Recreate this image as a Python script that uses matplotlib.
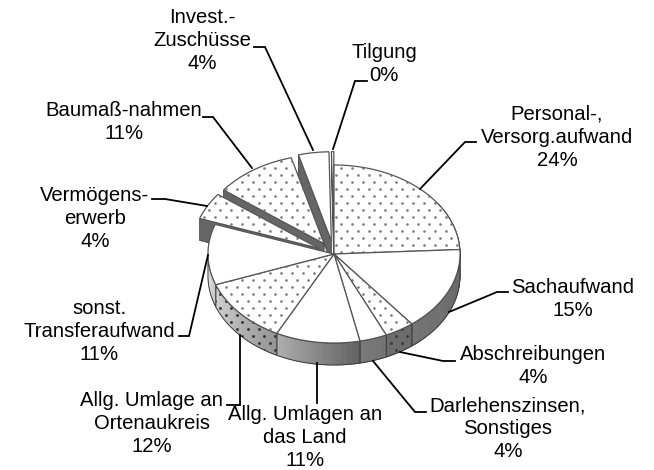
import numpy as np
import matplotlib
matplotlib.use("Agg")
import matplotlib.pyplot as plt
from matplotlib.patches import Polygon
from matplotlib.collections import PolyCollection

plt.rcParams['font.family'] = ['Liberation Sans', 'DejaVu Sans']

# data, clockwise from 12 o'clock (shares, labels as printed)
categories = ["Personal-,\nVersorg.aufwand", "Sachaufwand", "Abschreibungen",
              "Darlehenszinsen,\nSonstiges", "Allg. Umlagen an\ndas Land",
              "Allg. Umlage an\nOrtenaukreis", "sonst.\nTransferaufwand",
              "Vermögens-\nerwerb", "Baumaß-nahmen", "Invest.-\nZuschüsse", "Tilgung"]
shares = [24.2, 15.2, 3.8, 3.5, 10.8, 11.9, 11.0, 4.9, 10.5, 3.9, 0.3]
percent = [24, 15, 4, 4, 11, 12, 11, 4, 11, 4, 0]

# styles
dotted = [True, False, True, False, False, True, False, True, True, False, False]
explode = [0, 0, 0, 0, 0, 0, 0, 0.14, 0.14, 0.15, 0.15]
wall_grey = [(0.42, 0.40), (0.40, 0.45), (0.42, 0.42), (0.45, 0.47), (0.38, 0.68),
             (0.58, 0.82), (0.78, 0.92), (0.4, 0.4), (0.4, 0.4), (0.4, 0.4), (0.4, 0.4)]

# label layout in pixels: text centre x, first line y, leader line
label_x = [557, 573, 533, 508, 305, 152, 99, 95, 124, 202, 384]
label_y = [115, 288, 355, 406, 415, 401, 309, 196, 111, 18, 53]
leaders = [[(476, 142), (465, 142), (420, 189)],
           [(508, 292), (497, 292), (449, 312)],
           [(455, 361), (443, 361), (400, 352)],
           [(426, 412), (415, 412), (373, 361)],
           [(317, 403), (317, 363)],
           [(227, 405), (240, 405), (240, 335)],
           [(179, 336), (189, 336), (208, 255)],
           [(152, 199), (165, 199), (207, 206)],
           [(203, 117), (213, 117), (252, 168)],
           [(254, 47), (265, 47), (313, 150)],
           [(367, 81), (355, 81), (333, 149)]]

cx, cy = 334, 254
rx, ry = 126, 89
depth = 22


def ell(t, off=(0, 0), dz=0):
    return np.column_stack([cx + off[0] + rx * np.sin(t), cy + off[1] + ry * -np.cos(t) + dz])


def dots(ax, patch, color, size, zorder, dx=11.0, dy=7.0):
    xmin, ymin = patch.get_xy().min(axis=0)
    xmax, ymax = patch.get_xy().max(axis=0)
    xs, ys = [], []
    rows = np.arange(np.floor(ymin / dy), np.ceil(ymax / dy) + 1)
    for r in rows:
        shift = (r % 2) * dx / 2
        for c in np.arange(np.floor(xmin / dx) - 1, np.ceil(xmax / dx) + 1):
            xs.append(c * dx + shift)
            ys.append(r * dy)
    sc = ax.scatter(xs, ys, s=size, c=color, linewidths=0, zorder=zorder)
    sc.set_clip_path(patch)


fig = plt.figure(figsize=(6.54, 4.70), dpi=100)
ax = fig.add_axes([0, 0, 1, 1])
ax.set_xlim(0, 654)
ax.set_ylim(470, 0)
ax.axis("off")

edges = np.concatenate([[0], np.cumsum(shares)]) / sum(shares) * 2 * np.pi
z = 2

# exploded slices go from the back to the front, then the rest of the pie over their cut walls
order = [10, 9, 8, 7, 0, 1, 2, 3, 4, 5, 6]
for i in order:
    t0, t1 = edges[i], edges[i + 1]
    tm = (t0 + t1) / 2
    off = (explode[i] * rx * np.sin(tm), -explode[i] * ry * np.cos(tm))
    ts = np.linspace(t0, t1, max(int((t1 - t0) * 60), 3))
    arc = ell(ts, off)
    centre = np.array([[cx + off[0], cy + off[1]]])

    # cut wall seen on exploded slices
    if explode[i] > 0:
        a = centre[0]
        b = ell(np.array([t0]), off)[0]
        wall = Polygon([a, b, b + [0, depth], a + [0, depth]], closed=True, fc="#666666",
                       ec="#444444", lw=0.6, zorder=z)
        ax.add_patch(wall)
        z += 1

    # outer rim, only the front half faces the viewer
    front = ts[(ts > np.pi / 2 - 0.6) & (ts < 3 * np.pi / 2)] if explode[i] == 0 else []
    if len(front) > 1:
        top = ell(front, off)
        low = ell(front, off, depth)
        quads = [[top[k], top[k + 1], low[k + 1], low[k]] for k in range(len(front) - 1)]
        g = np.linspace(wall_grey[i][0], wall_grey[i][1], len(quads))
        ax.add_collection(PolyCollection(quads, facecolors=[(v, v, v) for v in g],
                                         edgecolors=[(v, v, v) for v in g], lw=0.5, zorder=z))
        z += 1
        rim = Polygon(np.vstack([top, low[::-1]]), closed=True, fc="none", ec="#3a3a3a", lw=0.7, zorder=z + 1)
        ax.add_patch(rim)
        if dotted[i]:
            dots(ax, rim, "#3a3a3a", 4.5, z)
        z += 2

    face = Polygon(np.vstack([centre, arc]), closed=True, fc="white", ec="#555555", lw=0.9, zorder=z)
    ax.add_patch(face)
    z += 1
    if dotted[i]:
        dots(ax, face, "#7a7a7a", 3.6, z)
        z += 1

for i in range(len(categories)):
    pts = np.array(leaders[i])
    ax.plot(pts[:, 0], pts[:, 1], color="black", lw=1.3, solid_joinstyle="miter", zorder=z)
    txt = categories[i] + "\n" + str(percent[i]) + "%"
    ax.text(label_x[i], label_y[i] - 10, txt, ha="center", va="top",
            fontsize=14.6, linespacing=1.27, color="black", zorder=z + 1)

fig.savefig("out.png", dpi=100)
